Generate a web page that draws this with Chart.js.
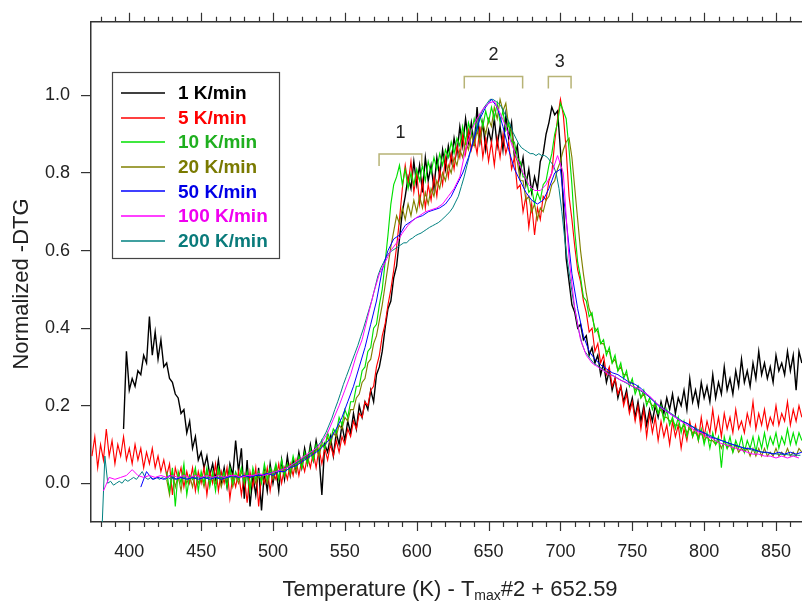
<!DOCTYPE html>
<html>
<head>
<meta charset="utf-8">
<title>Normalized -DTG</title>
<script src="https://cdn.jsdelivr.net/npm/chart.js@4/dist/chart.umd.min.js"></script>
<style>
  html, body { margin: 0; padding: 0; background: #fff; }
  #wrap { width: 802px; height: 601px; position: relative; }
</style>
</head>
<body>
<div id="wrap"><canvas id="dtg-chart"></canvas></div>
<script>
// Heating rates shown in the legend
const rates = ['1 K/min', '5 K/min', '10 K/min', '20 K/min', '50 K/min', '100 K/min', '200 K/min'];

// Axis ticks
const tempTicks = [400, 450, 500, 550, 600, 650, 700, 750, 800, 850];
const dtgTicks = [0.0, 0.2, 0.4, 0.6, 0.8, 1.0];

// Each run is sampled on a regular temperature grid: first temperature, step (K)
const gridStart = [396, 374, 426, 426, 408, 382, 381];
const gridStep = [2, 2, 2, 2, 4, 4, 2];

// 1 K/min
const dtg1 = [
  0.14, 0.34, 0.24, 0.27, 0.25, 0.29, 0.28, 0.33, 0.31, 0.43, 0.33, 0.39, 0.32, 0.37, 0.30, 0.31, 0.27, 0.26, 0.23, 0.22,
  0.18, 0.19, 0.13, 0.16, 0.09, 0.12, 0.06, 0.08, 0.04, 0.07, 0.02, 0.05, 0.01, 0.06, 0.00, 0.04, -0.01, 0.05, 0.02, 0.11,
  0.03, 0.09, -0.04, 0.06, -0.06, 0.02, -0.03, 0.04, -0.07, 0.03, -0.02, 0.05, 0.00, 0.04, -0.02, 0.06, 0.01, 0.07, 0.02, 0.06,
  0.03, 0.08, 0.04, 0.09, 0.05, 0.10, 0.06, 0.11, 0.07, -0.03, 0.10, 0.08, 0.12, 0.07, 0.13, 0.10, 0.15, 0.11, 0.16, 0.13,
  0.18, 0.14, 0.20, 0.17, 0.21, 0.19, 0.24, 0.21, 0.28, 0.30, 0.34, 0.40, 0.45, 0.47, 0.53, 0.56, 0.63, 0.70, 0.74, 0.79,
  0.76, 0.83, 0.77, 0.82, 0.75, 0.84, 0.78, 0.82, 0.76, 0.84, 0.79, 0.86, 0.81, 0.87, 0.83, 0.89, 0.85, 0.92, 0.87, 0.94,
  0.88, 0.93, 0.87, 0.97, 0.88, 0.93, 0.86, 0.91, 0.88, 0.94, 0.87, 0.92, 0.86, 0.95, 0.89, 0.93, 0.84, 0.87, 0.80, 0.84,
  0.77, 0.81, 0.75, 0.79, 0.76, 0.83, 0.85, 0.90, 0.93, 0.97, 0.95, 0.96, 0.86, 0.72, 0.58, 0.52, 0.46, 0.44, 0.40, 0.41,
  0.37, 0.38, 0.33, 0.35, 0.31, 0.33, 0.28, 0.31, 0.26, 0.29, 0.24, 0.27, 0.22, 0.25, 0.21, 0.24, 0.19, 0.22, 0.17, 0.21,
  0.16, 0.20, 0.15, 0.19, 0.16, 0.20, 0.17, 0.21, 0.18, 0.22, 0.19, 0.23, 0.18, 0.22, 0.20, 0.24, 0.19, 0.27, 0.21, 0.24,
  0.20, 0.26, 0.22, 0.25, 0.21, 0.28, 0.22, 0.26, 0.23, 0.30, 0.24, 0.27, 0.23, 0.29, 0.25, 0.32, 0.26, 0.29, 0.25, 0.31,
  0.27, 0.34, 0.28, 0.31, 0.27, 0.30, 0.26, 0.33, 0.29, 0.31, 0.28, 0.34, 0.29, 0.33, 0.24, 0.34, 0.31
];

// 5 K/min
const dtg5 = [
  0.07, 0.12, 0.04, 0.10, 0.06, 0.14, 0.07, 0.11, 0.05, 0.10, 0.07, 0.12, 0.06, 0.09, 0.05, 0.10, 0.06, 0.09, 0.04, 0.08,
  0.05, 0.09, 0.04, 0.07, 0.03, 0.06, 0.02, 0.05, -0.03, 0.04, 0.01, 0.04, -0.01, 0.03, 0.00, 0.04, -0.02, 0.03, 0.00, 0.04,
  -0.03, 0.03, 0.00, 0.05, -0.02, 0.03, 0.00, 0.04, -0.04, 0.02, -0.01, 0.03, -0.03, 0.02, -0.05, 0.03, -0.01, 0.04, -0.06, 0.02,
  0.00, 0.04, -0.02, 0.03, 0.01, 0.05, 0.00, 0.04, 0.01, 0.05, 0.02, 0.06, 0.02, 0.06, 0.03, 0.07, 0.04, 0.08, 0.04, 0.09,
  0.05, 0.09, 0.06, 0.10, 0.07, 0.11, 0.08, 0.12, 0.10, 0.14, 0.12, 0.16, 0.14, 0.18, 0.17, 0.21, 0.20, 0.24, 0.25, 0.30,
  0.33, 0.38, 0.41, 0.46, 0.50, 0.55, 0.61, 0.68, 0.76, 0.82, 0.77, 0.83, 0.75, 0.80, 0.72, 0.78, 0.71, 0.77, 0.73, 0.79,
  0.74, 0.81, 0.77, 0.84, 0.79, 0.85, 0.81, 0.87, 0.84, 0.90, 0.85, 0.91, 0.86, 0.89, 0.85, 0.92, 0.84, 0.89, 0.83, 0.88,
  0.82, 0.89, 0.84, 0.90, 0.85, 0.88, 0.81, 0.84, 0.76, 0.77, 0.70, 0.74, 0.66, 0.72, 0.64, 0.71, 0.68, 0.74, 0.73, 0.78,
  0.80, 0.88, 0.94, 0.99, 0.95, 0.86, 0.74, 0.68, 0.61, 0.55, 0.52, 0.47, 0.44, 0.39, 0.40, 0.34, 0.36, 0.31, 0.33, 0.28,
  0.30, 0.25, 0.27, 0.23, 0.25, 0.20, 0.23, 0.18, 0.21, 0.16, 0.20, 0.14, 0.19, 0.12, 0.18, 0.13, 0.17, 0.11, 0.16, 0.12,
  0.15, 0.10, 0.16, 0.12, 0.15, 0.09, 0.14, 0.11, 0.16, 0.12, 0.15, 0.11, 0.17, 0.12, 0.16, 0.13, 0.19, 0.13, 0.17, 0.12,
  0.18, 0.14, 0.17, 0.13, 0.19, 0.14, 0.16, 0.13, 0.18, 0.15, 0.21, 0.14, 0.18, 0.15, 0.19, 0.14, 0.17, 0.15, 0.20, 0.15,
  0.18, 0.16, 0.21, 0.15, 0.19, 0.16, 0.20, 0.17
];

// 10 K/min
const dtg10 = [
  0.03, -0.02, 0.04, -0.06, 0.03, 0.00, 0.05, -0.03, 0.02, 0.01, 0.04, -0.02, 0.03, 0.00, 0.04, -0.01, 0.03, -0.02, 0.04, 0.01,
  0.03, -0.01, 0.04, 0.00, 0.03, 0.01, 0.04, 0.00, 0.03, -0.02, 0.04, 0.01, 0.03, 0.00, 0.05, 0.01, 0.04, 0.02, 0.05, 0.01,
  0.06, 0.02, 0.05, 0.03, 0.07, 0.04, 0.07, 0.04, 0.08, 0.05, 0.09, 0.06, 0.10, 0.08, 0.11, 0.09, 0.13, 0.11, 0.14, 0.13,
  0.17, 0.15, 0.19, 0.17, 0.21, 0.21, 0.25, 0.25, 0.29, 0.30, 0.34, 0.35, 0.40, 0.41, 0.46, 0.50, 0.57, 0.64, 0.72, 0.77,
  0.79, 0.82, 0.77, 0.81, 0.76, 0.80, 0.77, 0.81, 0.78, 0.82, 0.78, 0.83, 0.80, 0.84, 0.81, 0.85, 0.82, 0.86, 0.84, 0.88,
  0.85, 0.89, 0.87, 0.92, 0.88, 0.93, 0.90, 0.94, 0.91, 0.95, 0.92, 0.96, 0.93, 0.97, 0.94, 0.98, 0.93, 0.96, 0.91, 0.93,
  0.88, 0.88, 0.84, 0.83, 0.79, 0.79, 0.75, 0.76, 0.72, 0.75, 0.73, 0.77, 0.78, 0.82, 0.85, 0.90, 0.93, 0.98, 0.96, 0.94,
  0.86, 0.77, 0.65, 0.57, 0.53, 0.48, 0.47, 0.43, 0.44, 0.39, 0.40, 0.36, 0.37, 0.33, 0.35, 0.31, 0.33, 0.29, 0.31, 0.27,
  0.29, 0.25, 0.27, 0.23, 0.25, 0.22, 0.24, 0.20, 0.22, 0.19, 0.21, 0.18, 0.20, 0.16, 0.19, 0.15, 0.17, 0.14, 0.17, 0.13,
  0.16, 0.12, 0.15, 0.12, 0.14, 0.11, 0.14, 0.10, 0.13, 0.09, 0.13, 0.10, 0.12, 0.04, 0.12, 0.09, 0.12, 0.08, 0.11, 0.09,
  0.12, 0.08, 0.11, 0.09, 0.12, 0.08, 0.12, 0.09, 0.13, 0.09, 0.12, 0.10, 0.13, 0.09, 0.12, 0.10, 0.14, 0.10, 0.13, 0.10,
  0.13, 0.11
];

// 20 K/min
const dtg20 = [
  0.01, -0.03, 0.03, -0.01, 0.02, -0.02, 0.03, 0.00, 0.02, -0.01, 0.03, 0.00, 0.02, -0.01, 0.03, 0.00, 0.02, 0.00, 0.03, -0.01,
  0.02, 0.01, 0.03, -0.01, 0.02, 0.00, 0.03, 0.01, 0.02, -0.01, 0.03, 0.00, 0.02, 0.01, 0.03, 0.00, 0.03, 0.01, 0.04, 0.01,
  0.04, 0.02, 0.05, 0.02, 0.05, 0.03, 0.06, 0.04, 0.07, 0.05, 0.08, 0.06, 0.09, 0.07, 0.10, 0.09, 0.12, 0.10, 0.13, 0.12,
  0.15, 0.14, 0.17, 0.16, 0.19, 0.19, 0.22, 0.23, 0.26, 0.27, 0.31, 0.32, 0.36, 0.38, 0.42, 0.46, 0.51, 0.56, 0.61, 0.65,
  0.69, 0.67, 0.71, 0.68, 0.72, 0.69, 0.73, 0.70, 0.74, 0.71, 0.75, 0.72, 0.76, 0.74, 0.78, 0.76, 0.80, 0.78, 0.82, 0.80,
  0.84, 0.82, 0.86, 0.84, 0.88, 0.86, 0.90, 0.87, 0.91, 0.88, 0.93, 0.90, 0.94, 0.92, 0.97, 0.94, 0.99, 0.96, 0.98, 0.92,
  0.91, 0.85, 0.83, 0.78, 0.78, 0.73, 0.74, 0.70, 0.72, 0.68, 0.71, 0.70, 0.73, 0.74, 0.77, 0.78, 0.81, 0.83, 0.86, 0.88,
  0.89, 0.84, 0.76, 0.68, 0.60, 0.54, 0.49, 0.45, 0.43, 0.40, 0.39, 0.36, 0.36, 0.34, 0.34, 0.31, 0.32, 0.29, 0.30, 0.28,
  0.28, 0.26, 0.26, 0.24, 0.25, 0.22, 0.23, 0.21, 0.21, 0.20, 0.20, 0.18, 0.19, 0.17, 0.17, 0.16, 0.16, 0.15, 0.15, 0.14,
  0.15, 0.13, 0.14, 0.13, 0.13, 0.12, 0.13, 0.11, 0.12, 0.11, 0.11, 0.10, 0.11, 0.09, 0.11, 0.09, 0.10, 0.08, 0.10, 0.08,
  0.09, 0.08, 0.09, 0.07, 0.09, 0.07, 0.09, 0.07, 0.09, 0.07, 0.08, 0.07, 0.09, 0.07, 0.08, 0.07, 0.09, 0.07, 0.08, 0.07,
  0.09, 0.08
];

// 50 K/min
const dtg50 = [
  -0.01, 0.03, 0.01, 0.015, 0.01, 0.02, 0.01, 0.015, 0.01, 0.015, 0.01, 0.015, 0.01, 0.015, 0.01, 0.015, 0.02, 0.015, 0.02, 0.015,
  0.02, 0.02, 0.025, 0.02, 0.03, 0.03, 0.04, 0.045, 0.055, 0.065, 0.075, 0.085, 0.10, 0.115, 0.14, 0.17, 0.21, 0.25, 0.30, 0.35,
  0.41, 0.47, 0.55, 0.60, 0.63, 0.64, 0.665, 0.675, 0.685, 0.69, 0.70, 0.705, 0.71, 0.72, 0.74, 0.77, 0.80, 0.84, 0.89, 0.94,
  0.97, 0.99, 0.97, 0.92, 0.86, 0.81, 0.78, 0.75, 0.73, 0.72, 0.73, 0.76, 0.80, 0.81, 0.68, 0.54, 0.45, 0.38, 0.34, 0.32,
  0.305, 0.295, 0.285, 0.28, 0.27, 0.26, 0.255, 0.245, 0.23, 0.215, 0.20, 0.19, 0.18, 0.17, 0.16, 0.155, 0.145, 0.135, 0.13, 0.12,
  0.115, 0.11, 0.105, 0.10, 0.095, 0.09, 0.09, 0.085, 0.08, 0.08, 0.075, 0.08, 0.075, 0.08, 0.075, 0.08
];

// 100 K/min
const dtg100 = [
  -0.02, 0.015, 0.01, 0.015, 0.02, 0.035, 0.02, 0.015, 0.02, 0.015, 0.02, 0.015, 0.02, 0.015, 0.02, 0.015, 0.02, 0.015, 0.02, 0.015,
  0.02, 0.015, 0.02, 0.02, 0.015, 0.02, 0.02, 0.025, 0.02, 0.025, 0.03, 0.035, 0.04, 0.05, 0.06, 0.07, 0.08, 0.09, 0.105, 0.13,
  0.165, 0.20, 0.24, 0.28, 0.33, 0.37, 0.43, 0.49, 0.54, 0.57, 0.60, 0.62, 0.645, 0.665, 0.68, 0.69, 0.70, 0.705, 0.71, 0.72,
  0.74, 0.76, 0.79, 0.86, 0.91, 0.94, 0.965, 0.98, 0.985, 0.955, 0.92, 0.875, 0.835, 0.80, 0.77, 0.755, 0.755, 0.77, 0.80, 0.845,
  0.80, 0.58, 0.45, 0.37, 0.33, 0.31, 0.30, 0.29, 0.28, 0.275, 0.265, 0.26, 0.25, 0.245, 0.235, 0.225, 0.21, 0.195, 0.185, 0.175,
  0.165, 0.155, 0.145, 0.135, 0.13, 0.12, 0.115, 0.105, 0.10, 0.095, 0.09, 0.085, 0.08, 0.075, 0.075, 0.07, 0.07, 0.065, 0.07, 0.065,
  0.07, 0.065
];

// 200 K/min
const dtg200 = [
  -0.12, 0.07, 0.00, 0.005, -0.005, 0.00, 0.005, 0.00, 0.01, 0.005, 0.01, 0.015, 0.01, 0.02, 0.03, 0.015, 0.01, 0.015, 0.01, 0.015,
  0.01, 0.015, 0.01, 0.015, 0.01, 0.015, 0.01, 0.015, 0.012, 0.015, 0.01, 0.015, 0.012, 0.016, 0.012, 0.015, 0.012, 0.016, 0.013, 0.016,
  0.013, 0.017, 0.014, 0.017, 0.014, 0.018, 0.015, 0.018, 0.016, 0.019, 0.017, 0.02, 0.018, 0.021, 0.02, 0.023, 0.022, 0.025, 0.025, 0.028,
  0.028, 0.032, 0.033, 0.037, 0.039, 0.043, 0.046, 0.05, 0.054, 0.058, 0.063, 0.068, 0.073, 0.079, 0.086, 0.095, 0.105, 0.118, 0.132, 0.15,
  0.168, 0.19, 0.21, 0.232, 0.255, 0.275, 0.295, 0.315, 0.335, 0.355, 0.378, 0.40, 0.425, 0.45, 0.475, 0.505, 0.535, 0.555, 0.57, 0.585,
  0.595, 0.60, 0.605, 0.61, 0.615, 0.62, 0.62, 0.628, 0.632, 0.638, 0.642, 0.645, 0.65, 0.655, 0.66, 0.664, 0.668, 0.672, 0.678, 0.685,
  0.692, 0.70, 0.71, 0.725, 0.74, 0.765, 0.79, 0.82, 0.85, 0.88, 0.91, 0.935, 0.955, 0.97, 0.98, 0.99, 0.99, 0.985, 0.98, 0.97,
  0.955, 0.94, 0.925, 0.905, 0.89, 0.875, 0.865, 0.86, 0.855, 0.85, 0.85, 0.845, 0.85, 0.845, 0.845, 0.84, 0.83, 0.82, 0.80, 0.76,
  0.70, 0.63, 0.57, 0.52, 0.47, 0.43, 0.39, 0.36, 0.34, 0.33, 0.32, 0.31, 0.305, 0.30, 0.295, 0.29, 0.285, 0.28, 0.277, 0.272,
  0.268, 0.264, 0.26, 0.256, 0.252, 0.248, 0.244, 0.24, 0.235, 0.23, 0.225, 0.218, 0.212, 0.205, 0.20, 0.195, 0.19, 0.185, 0.18, 0.175,
  0.17, 0.165, 0.16, 0.156, 0.152, 0.148, 0.144, 0.14, 0.136, 0.132, 0.128, 0.125, 0.122, 0.118, 0.115, 0.112, 0.109, 0.106, 0.103, 0.10,
  0.098, 0.096, 0.094, 0.092, 0.09, 0.088, 0.086, 0.084, 0.083, 0.082, 0.08, 0.079, 0.078, 0.077, 0.076, 0.075, 0.075, 0.074, 0.074, 0.073,
  0.073, 0.072, 0.072, 0.072
];

const series = [dtg1, dtg5, dtg10, dtg20, dtg50, dtg100, dtg200];

// Stage markers: label, from (K), to (K), bracket level
const stageNames = ['1', '2', '3'];
const stageFrom = [573.8, 633.1, 691.6];
const stageTo = [603.5, 673.7, 707.4];
const stageLevel = [0.849, 1.049, 1.049];

const lineColors = ['#000000', '#ff0000', '#00e000', '#808000', '#0000ff', '#ff00ff', '#008080'];
const textColors = ['#000000', '#ff0000', '#1faf1f', '#7a7a00', '#0000e6', '#f000f0', '#0a7b7b'];
// lower value is drawn on top
const drawOrder = [7, 6, 4, 5, 2, 1, 3];

const FONT = "'Liberation Sans', Arial, Helvetica, sans-serif";
Chart.defaults.font.family = FONT;
Chart.defaults.color = '#222';

const X_MIN = 373.35;
const X_MAX = 868.1;
const AXIS_COLOR = '#333';

const toPoints = (start, step, values) => values.map((v, i) => ({ x: start + i * step, y: v }));

const datasets = series.map((values, i) => ({
  label: rates[i],
  data: toPoints(gridStart[i], gridStep[i], values),
  borderColor: lineColors[i],
  borderWidth: i === 0 ? 1.4 : (i < 4 ? 1.15 : 1),
  pointRadius: 0,
  tension: 0,
  fill: false,
  order: drawOrder[i],
}));

// minor/major tick marks on the bottom and top temperature axes
const tickMarks = {
  id: 'tickMarks',
  afterDraw(chart) {
    const { ctx, chartArea } = chart;
    const x = chart.scales.x;
    ctx.save();
    ctx.strokeStyle = AXIS_COLOR;
    ctx.lineWidth = 1.2;
    ctx.beginPath();
    for (let t = 380; t <= X_MAX; t += 10) {
      const px = Math.round(x.getPixelForValue(t)) + 0.5;
      const len = t % 50 === 0 ? 9 : 5;
      ctx.moveTo(px, chartArea.bottom);
      ctx.lineTo(px, chartArea.bottom + len);
      ctx.moveTo(px, chartArea.top);
      ctx.lineTo(px, chartArea.top - len);
    }
    ctx.stroke();
    ctx.restore();
  },
};

// stage brackets with their numbers
const stageBrackets = {
  id: 'stageBrackets',
  afterDatasetsDraw(chart) {
    const { ctx } = chart;
    const x = chart.scales.x;
    const y = chart.scales.y;
    ctx.save();
    ctx.strokeStyle = '#b7b376';
    ctx.lineWidth = 1.5;
    ctx.fillStyle = '#222';
    ctx.font = `18px ${FONT}`;
    ctx.textAlign = 'center';
    ctx.textBaseline = 'middle';
    stageNames.forEach((name, i) => {
      const x0 = x.getPixelForValue(stageFrom[i]);
      const x1 = x.getPixelForValue(stageTo[i]);
      const top = y.getPixelForValue(stageLevel[i]);
      ctx.beginPath();
      ctx.moveTo(x0, top + 12);
      ctx.lineTo(x0, top);
      ctx.lineTo(x1, top);
      ctx.lineTo(x1, top + 12);
      ctx.stroke();
      const lift = i === 2 ? 14 : 21;
      ctx.fillText(name, (x0 + x1) / 2, top - lift);
    });
    ctx.restore();
  },
};

// legend box inside the plot and the two axis titles
const frameText = {
  id: 'frameText',
  afterDraw(chart) {
    const { ctx } = chart;
    ctx.save();

    ctx.fillStyle = '#fff';
    ctx.fillRect(112, 72, 168, 187);
    ctx.strokeStyle = '#444';
    ctx.lineWidth = 1.2;
    ctx.strokeRect(112.5, 72.5, 167, 186);
    ctx.font = `bold 19px ${FONT}`;
    ctx.textAlign = 'left';
    ctx.textBaseline = 'middle';
    rates.forEach((name, i) => {
      const ry = 93 + i * 24.6;
      ctx.strokeStyle = lineColors[i];
      ctx.lineWidth = 1.3;
      ctx.beginPath();
      ctx.moveTo(121, Math.round(ry));
      ctx.lineTo(165, Math.round(ry));
      ctx.stroke();
      ctx.fillStyle = textColors[i];
      ctx.fillText(name, 178, ry + 1);
    });

    ctx.fillStyle = '#222';
    ctx.font = `22px ${FONT}`;
    ctx.textBaseline = 'middle';
    ctx.textAlign = 'center';
    ctx.translate(22, 284);
    ctx.rotate(-Math.PI / 2);
    ctx.fillText('Normalized -DTG', 0, 0);
    ctx.setTransform(1, 0, 0, 1, 0, 0);

    const head = 'Temperature (K) - T';
    const sub = 'max';
    const tail = '#2 + 652.59';
    ctx.textBaseline = 'alphabetic';
    ctx.textAlign = 'left';
    ctx.font = `22px ${FONT}`;
    const wHead = ctx.measureText(head).width;
    const wTail = ctx.measureText(tail).width;
    ctx.font = `14px ${FONT}`;
    const wSub = ctx.measureText(sub).width;
    let tx = 450 - (wHead + wSub + wTail) / 2;
    ctx.font = `22px ${FONT}`;
    ctx.fillText(head, tx, 596);
    tx += wHead;
    ctx.font = `14px ${FONT}`;
    ctx.fillText(sub, tx, 600);
    tx += wSub;
    ctx.font = `22px ${FONT}`;
    ctx.fillText(tail, tx, 596);
    ctx.restore();
  },
};

new Chart(document.getElementById('dtg-chart'), {
  type: 'line',
  data: { datasets },
  options: {
    responsive: true,
    maintainAspectRatio: false,
    animation: false,
    events: [],
    layout: { padding: 0 },
    plugins: {
      legend: { display: false },
      tooltip: { enabled: false },
    },
    scales: {
      x: {
        type: 'linear',
        position: 'bottom',
        min: X_MIN,
        max: X_MAX,
        afterFit(scale) { scale.height = 79; },
        afterBuildTicks(scale) { scale.ticks = tempTicks.map((v) => ({ value: v })); },
        grid: { display: false, drawTicks: true, tickLength: 9 },
        border: { display: true, color: AXIS_COLOR, width: 1.5 },
        ticks: {
          font: { size: 18 },
          color: '#222',
          padding: 10,
          maxRotation: 0,
          autoSkip: false,
          callback: (v) => String(v),
        },
      },
      xTop: {
        type: 'linear',
        position: 'top',
        min: X_MIN,
        max: X_MAX,
        afterFit(scale) { scale.height = 19; },
        grid: { display: false, drawTicks: false },
        border: { display: true, color: AXIS_COLOR, width: 1.5 },
        ticks: { display: false },
      },
      y: {
        type: 'linear',
        position: 'left',
        min: -0.1,
        max: 1.19,
        afterFit(scale) { scale.width = 91; },
        afterBuildTicks(scale) { scale.ticks = dtgTicks.map((v) => ({ value: v })); },
        grid: {
          display: true,
          drawOnChartArea: false,
          drawTicks: true,
          tickLength: 10,
          color: AXIS_COLOR,
          lineWidth: 1.2,
        },
        border: { display: true, color: AXIS_COLOR, width: 1.5 },
        ticks: {
          font: { size: 18 },
          color: '#222',
          padding: 11,
          callback: (v) => Number(v).toFixed(1),
        },
      },
    },
  },
  plugins: [stageBrackets, tickMarks, frameText],
});
</script>
</body>
</html>
